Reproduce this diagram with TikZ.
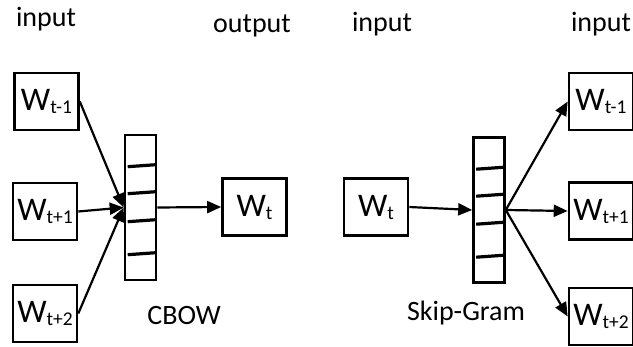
\documentclass[tikz,border=0pt]{standalone}
\usepackage{fontspec}
\setmainfont{Carlito}
\usetikzlibrary{positioning,arrows.meta,calc}

\newcommand{\wsub}[1]{W\raisebox{-3pt}{\fontsize{19.5}{19.5}\selectfont #1}}

\begin{document}
\begin{tikzpicture}
  [x=1pt,y=-1pt,
   box/.style={draw,line width=2.6pt,minimum width=64pt,minimum height=57pt,inner sep=0pt,font=\fontsize{33}{33}\selectfont},
   bar/.style={draw,line width=2.6pt,minimum width=31pt,minimum height=145pt,inner sep=0pt},
   lbl/.style={inner sep=0pt,font=\fontsize{28}{28}\selectfont},
   tick/.style={line width=3.2pt},
   arr/.style={line width=2.2pt,-{Triangle[length=14pt,width=12pt]}}]
  \useasboundingbox (0,0) rectangle (633,347);

  % CBOW
  \node[lbl] (cin)  at (46,19)  {input};
  \node[lbl] (cout) at (252,26) {output};
  \node[box] (c1) at (46.5,101.5) {\wsub{t-1}};
  \node[box] (c2) at (45,211.5)   {\wsub{t+1}};
  \node[box] (c3) at (45,313.5)   {\wsub{t+2}};
  \node[bar] (cbar) at (140.5,207.5) {};
  \node[box] (cw) at (254.5,207)  {\wsub{t}};
  \node[lbl] (cname) at (184,316) {CBOW};

  \draw[arr] (c1.east) -- (cbar.west);
  \draw[arr] (c2.east) -- (cbar.west);
  \draw[arr] (c3.east) -- (cbar.west);
  \draw[arr] (cbar.east) -- (cw.west);

  % Skip-Gram
  \node[lbl] (sin)  at (382,24) {input};
  \node[lbl] (sout) at (601,24) {input};
  \node[box] (sw) at (376,207)   {\wsub{t}};
  \node[bar] (sbar) at (489,210) {};
  \node[box] (s1) at (601,101.5) {\wsub{t-1}};
  \node[box] (s2) at (601,211)   {\wsub{t+1}};
  \node[box] (s3) at (601,316.5) {\wsub{t+2}};
  \node[lbl] (sname) at (466,313) {Skip-Gram};

  \draw[arr] (sw.east) -- (sbar.west);
  \draw[arr] (sbar.east) -- (s1.west);
  \draw[arr] (sbar.east) -- (s2.west);
  \draw[arr] (sbar.east) -- (s3.west);

  \foreach \b in {cbar,sbar}
    \foreach \d in {32,59,87,120}
      \draw[tick] ($(\b.north west)+(4,\d+1)$) -- ($(\b.north east)+(-1.3,\d-1)$);

\end{tikzpicture}
\end{document}
